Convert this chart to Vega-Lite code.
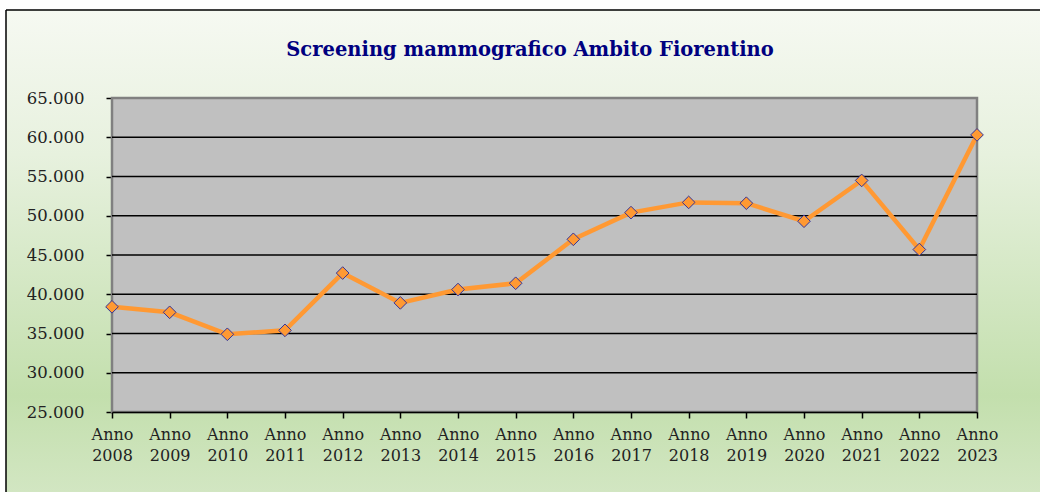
{
  "$schema": "https://vega.github.io/schema/vega-lite/v6.json",
  "autosize": "none",
  "width": 1034,
  "height": 482,
  "padding": {"left": 6, "top": 10, "right": 0, "bottom": 0},
  "background": "#ffffff",
  "title": {
    "text": "Screening mammografico Ambito Fiorentino",
    "font": "DejaVu Serif",
    "fontSize": 19.5,
    "fontWeight": "bold",
    "color": "#000080",
    "anchor": "middle",
    "frame": "group",
    "dx": 7,
    "offset": -50
  },
  "data": {
    "values": [
      {"anno": "Anno 2008", "valore": 38400},
      {"anno": "Anno 2009", "valore": 37700},
      {"anno": "Anno 2010", "valore": 34900},
      {"anno": "Anno 2011", "valore": 35400},
      {"anno": "Anno 2012", "valore": 42700},
      {"anno": "Anno 2013", "valore": 38900},
      {"anno": "Anno 2014", "valore": 40600},
      {"anno": "Anno 2015", "valore": 41400},
      {"anno": "Anno 2016", "valore": 47000},
      {"anno": "Anno 2017", "valore": 50400},
      {"anno": "Anno 2018", "valore": 51700},
      {"anno": "Anno 2019", "valore": 51600},
      {"anno": "Anno 2020", "valore": 49300},
      {"anno": "Anno 2021", "valore": 54500},
      {"anno": "Anno 2022", "valore": 45700},
      {"anno": "Anno 2023", "valore": 60300}
    ]
  },
  "layer": [
    {
      "data": {"values": [{"area": "plot"}]},
      "mark": {"type": "rect", "fill": "#c0c0c0", "stroke": "#808080", "strokeWidth": 2.5},
      "encoding": {
        "x": {"datum": "Anno 2008", "type": "ordinal"},
        "x2": {"datum": "Anno 2023"},
        "y": {"datum": 25000, "type": "quantitative"},
        "y2": {"datum": 65000}
      }
    },
    {
      "data": {"values": [{"griglia": 30000}, {"griglia": 35000}, {"griglia": 40000}, {"griglia": 45000}, {"griglia": 50000}, {"griglia": 55000}, {"griglia": 60000}]},
      "mark": {"type": "rule", "color": "#000000", "strokeWidth": 1.5},
      "encoding": {
        "x": {"datum": "Anno 2008", "type": "ordinal"},
        "x2": {"datum": "Anno 2023"},
        "y": {"field": "griglia", "type": "quantitative"}
      }
    },
    {
      "mark": {"type": "line", "color": "#ff9933", "strokeWidth": 4.5},
      "encoding": {
        "x": {"field": "anno", "type": "ordinal"},
        "y": {"field": "valore", "type": "quantitative"}
      }
    },
    {
      "mark": {"type": "point", "shape": "diamond", "filled": true, "size": 160, "fill": "#ff9933", "stroke": "#333399", "strokeWidth": 1, "opacity": 1},
      "encoding": {
        "x": {"field": "anno", "type": "ordinal"},
        "y": {"field": "valore", "type": "quantitative"}
      }
    }
  ],
  "resolve": {"scale": {"x": "shared", "y": "shared"}},
  "encoding": {
    "x": {
      "type": "ordinal",
      "scale": {"type": "point", "padding": 0, "range": [106, 971], "domain": ["Anno 2008", "Anno 2009", "Anno 2010", "Anno 2011", "Anno 2012", "Anno 2013", "Anno 2014", "Anno 2015", "Anno 2016", "Anno 2017", "Anno 2018", "Anno 2019", "Anno 2020", "Anno 2021", "Anno 2022", "Anno 2023"]},
      "axis": {
        "title": null,
        "offset": -80,
        "labelAngle": 0,
        "labelExpr": "split(datum.label, ' ')",
        "labelFont": "DejaVu Serif",
        "labelFontSize": 16,
        "labelColor": "#222222",
        "labelLineHeight": 21,
        "labelPadding": 8,
        "domainColor": "#000000",
        "domainWidth": 1.5,
        "tickColor": "#000000",
        "tickSize": 6,
        "tickWidth": 1.5,
        "grid": false
      }
    },
    "y": {
      "type": "quantitative",
      "scale": {"domain": [25000, 65000], "nice": false, "zero": false, "range": [402, 88]},
      "axis": {
        "title": null,
        "offset": -106,
        "values": [25000, 30000, 35000, 40000, 45000, 50000, 55000, 60000, 65000],
        "labelExpr": "replace(format(datum.value, ',.0f'), ',', '.')",
        "labelFont": "DejaVu Serif",
        "labelFontSize": 16.5,
        "labelColor": "#222222",
        "labelPadding": 22,
        "domainColor": "#000000",
        "domainWidth": 1.5,
        "tickColor": "#000000",
        "tickSize": 6,
        "tickWidth": 1.5,
        "grid": false
      }
    }
  },
  "config": {
    "view": {
      "fill": {"gradient": "linear", "x1": 0, "y1": 0, "x2": 0, "y2": 1, "stops": [{"offset": 0, "color": "#f6f9f2"}, {"offset": 0.3, "color": "#e7f1de"}, {"offset": 0.8, "color": "#c3dfad"}, {"offset": 1, "color": "#d2e6c2"}]},
      "stroke": "#000000",
      "strokeWidth": 1.5,
      "strokeDash": [1034, 1516, 482, 0]
    }
  }
}
